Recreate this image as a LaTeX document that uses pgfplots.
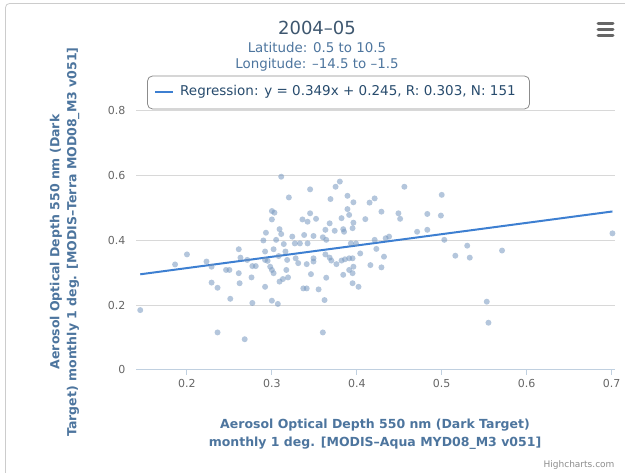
\documentclass[border=0pt]{standalone}
\usepackage{fontspec}
\setmainfont{DejaVu Sans}
\usepackage{pgfplots}
\pgfplotsset{compat=1.18}
\definecolor{ptc}{RGB}{119,152,191}
\definecolor{reg}{RGB}{61,127,209}
\definecolor{ttl}{RGB}{62,87,111}
\definecolor{leg}{RGB}{39,75,109}
\definecolor{sub}{RGB}{77,117,158}
\definecolor{gridc}{RGB}{216,216,216}
\definecolor{xax}{RGB}{192,208,224}
\definecolor{tk}{RGB}{102,102,102}
\begin{document}
\begin{tikzpicture}[x=1pt,y=1pt]
\path[use as bounding box] (0,0) rectangle (625,473);
\draw[black!20, line width=0.8pt, rounded corners=4pt] (5.5,-2) -- (5.5,469.5) -- (630,469.5);
\begin{axis}[
  at={(136pt,103pt)}, anchor=south west, scale only axis,
  width=479pt, height=259pt,
  xmin=0.14, xmax=0.704, ymin=0, ymax=0.8,
  axis x line*=bottom, axis y line*=left,
  x axis line style={xax, line width=1pt, -},
  y axis line style={draw=none},
  xtick={0.2,0.3,0.4,0.5,0.6,0.7},
  ytick={0,0.2,0.4,0.6,0.8},
  xtick style={xax, line width=1pt},
  ytick style={draw=none},
  tick align=outside, major tick length=5pt,
  ymajorgrids, grid style={gridc, line width=1pt},
  /pgf/number format/assume math mode=true,
  /pgf/number format/fixed,
  ticklabel style={font=\fontsize{11}{13}\selectfont, text=tk},
  yticklabel style={xshift=-2pt},
  xticklabel style={yshift=-1pt},
  clip=false,
]
\addplot[ptc, only marks, mark=*, mark size=3pt, mark options={fill=ptc, draw opacity=0, fill opacity=0.55}] coordinates {
(0.145,0.185) (0.186,0.326) (0.200,0.357) (0.223,0.335) (0.229,0.319) (0.229,0.270)
(0.236,0.254) (0.236,0.116) (0.246,0.309) (0.250,0.309) (0.251,0.220) (0.261,0.373)
(0.263,0.347) (0.261,0.299) (0.262,0.268) (0.268,0.095) (0.271,0.340) (0.277,0.321)
(0.281,0.321) (0.276,0.286) (0.277,0.207) (0.290,0.400) (0.293,0.424) (0.292,0.366)
(0.292,0.340) (0.292,0.257) (0.295,0.337) (0.298,0.319) (0.300,0.465) (0.300,0.491)
(0.303,0.486) (0.302,0.373) (0.300,0.309) (0.302,0.299) (0.300,0.214) (0.307,0.204)
(0.305,0.402) (0.308,0.352) (0.309,0.435) (0.311,0.420) (0.311,0.597) (0.314,0.389)
(0.316,0.366) (0.318,0.340) (0.309,0.273) (0.313,0.281) (0.317,0.309) (0.319,0.286)
(0.320,0.533) (0.324,0.412) (0.327,0.391) (0.328,0.345) (0.331,0.330) (0.333,0.391)
(0.336,0.465) (0.337,0.252) (0.341,0.252) (0.338,0.417) (0.342,0.458) (0.342,0.391)
(0.341,0.327) (0.345,0.558) (0.345,0.484) (0.346,0.296) (0.349,0.414) (0.349,0.345)
(0.349,0.335) (0.352,0.467) (0.355,0.249) (0.360,0.116) (0.360,0.410) (0.363,0.433)
(0.364,0.402) (0.363,0.357) (0.364,0.285) (0.362,0.216) (0.368,0.453) (0.368,0.347)
(0.369,0.528) (0.375,0.566) (0.380,0.582) (0.374,0.430) (0.382,0.469) (0.384,0.435)
(0.385,0.427) (0.389,0.538) (0.391,0.479) (0.389,0.497) (0.396,0.518) (0.395,0.438)
(0.396,0.455) (0.393,0.391) (0.399,0.391) (0.404,0.360) (0.395,0.345) (0.391,0.345)
(0.386,0.342) (0.382,0.338) (0.376,0.327) (0.370,0.338) (0.396,0.319) (0.391,0.309)
(0.395,0.299) (0.384,0.294) (0.395,0.268) (0.402,0.257) (0.410,0.466) (0.415,0.517)
(0.421,0.530) (0.416,0.324) (0.421,0.402) (0.423,0.374) (0.429,0.489) (0.432,0.350)
(0.429,0.317) (0.434,0.407) (0.438,0.412) (0.449,0.484) (0.451,0.467) (0.456,0.566)
(0.471,0.427) (0.483,0.482) (0.483,0.433) (0.500,0.541) (0.499,0.477) (0.503,0.402)
(0.516,0.353) (0.530,0.384) (0.533,0.347) (0.553,0.211) (0.555,0.146) (0.571,0.369)
(0.701,0.422)
};
\addplot[reg, line width=2pt] coordinates {(0.145,0.2956) (0.701,0.4897)};
\end{axis}
% title and subtitles
\node[text=ttl, font=\fontsize{18}{21}\selectfont] at (317,445) {2004–05};
\node[text=sub, font=\fontsize{13.4}{15}\selectfont] at (317,425) {Latitude: 0.5 to 10.5};
\node[text=sub, font=\fontsize{13.4}{15}\selectfont] at (317,408) {Longitude: –14.5 to –1.5};
% legend
\draw[black!45, line width=0.8pt, rounded corners=5pt] (147.5,397) rectangle (529.5,364);
\draw[reg, line width=2pt] (155,381) -- (173,381);
\node[anchor=west, text=leg, font=\fontsize{13.5}{15}\selectfont, inner sep=0pt] at (180,381) {Regression: y = 0.349x + 0.245, R: 0.303, N: 151};
% axis titles
\node[text=sub, font=\bfseries\fontsize{12.5}{14}\selectfont] at (375,48) {Aerosol Optical Depth 550 nm (Dark Target)};
\node[text=sub, font=\bfseries\fontsize{12.5}{14}\selectfont] at (375,30) {monthly 1 deg. [MODIS–Aqua MYD08\_M3 v051]};
\node[text=sub, font=\bfseries\fontsize{12.5}{14}\selectfont, rotate=90] at (56,231) {Aerosol Optical Depth 550 nm (Dark};
\node[text=sub, font=\bfseries\fontsize{12.5}{14}\selectfont, rotate=90] at (73,231) {Target) monthly 1 deg. [MODIS–Terra MOD08\_M3 v051]};
% menu icon
\foreach \yy in {449,443,437} \draw[tk, line width=3pt, line cap=round] (598,\yy) -- (613,\yy);
% credits
\node[anchor=east, text=black!45, font=\fontsize{9}{11}\selectfont] at (618,8) {Highcharts.com};
\end{tikzpicture}
\end{document}
